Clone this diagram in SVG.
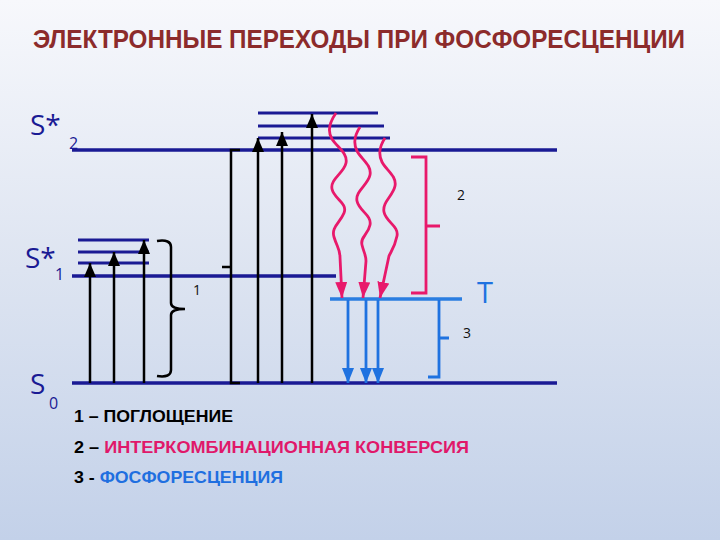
<svg xmlns="http://www.w3.org/2000/svg" width="720" height="540" viewBox="0 0 720 540">
<defs>
<linearGradient id="bg" x1="0" y1="0" x2="0" y2="1">
<stop offset="0" stop-color="#f7f8fc"/>
<stop offset="0.5" stop-color="#dde4f1"/>
<stop offset="1" stop-color="#c3d1e9"/>
</linearGradient>
<marker id="ab" markerUnits="userSpaceOnUse" markerWidth="14" markerHeight="12" refX="14" refY="6" orient="auto"><path d="M0,0 L14,6 L0,12 z" fill="#000"/></marker>
<marker id="ap" markerUnits="userSpaceOnUse" markerWidth="16" markerHeight="12" refX="16" refY="6" orient="auto"><path d="M0,0 L16,6 L0,12 z" fill="#e8196b"/></marker>
<marker id="au" markerUnits="userSpaceOnUse" markerWidth="15" markerHeight="12" refX="15" refY="6" orient="auto"><path d="M0,0 L15,6 L0,12 z" fill="#1f72e0"/></marker>
</defs>
<style>
.lvl{stroke:#1a1a94;stroke-width:3.5;fill:none}
.sub{stroke:#1a1a94;stroke-width:3;fill:none}
.blk{stroke:#000;stroke-width:2.5;fill:none}
.pnk{stroke:#e8196b;stroke-width:2.8;fill:none}
.blu{stroke:#1f72e0;stroke-width:2.8;fill:none}
.lbl{font-family:"Open Sans","Liberation Sans",sans-serif;fill:#1a1a94}
.num{font-family:"Open Sans","Liberation Sans",sans-serif;font-size:14px;fill:#111}
.leg{font-family:"Liberation Sans",Arial,sans-serif;font-weight:bold;font-size:17px;fill:#000}
</style>
<rect width="720" height="540" fill="url(#bg)"/>
<text x="33" y="48" font-family="'Liberation Sans',Arial,sans-serif" font-weight="bold" font-size="25" fill="#8c2b2b" textLength="652" lengthAdjust="spacingAndGlyphs">ЭЛЕКТРОННЫЕ ПЕРЕХОДЫ ПРИ ФОСФОРЕСЦЕНЦИИ</text>

<g id="level-S2">
<line class="lvl" x1="72" y1="150" x2="557" y2="150"/>
<line class="sub" x1="258" y1="113" x2="378" y2="113"/>
<line class="sub" x1="258" y1="126" x2="384" y2="126"/>
<line class="sub" x1="258" y1="138" x2="390" y2="138"/>
<text class="lbl" x="30" y="135" font-size="28">S*</text>
<text class="lbl" x="69" y="149" font-size="16">2</text>
</g>
<g id="level-S1">
<line class="lvl" x1="72" y1="276" x2="336" y2="276"/>
<line class="sub" x1="78" y1="240" x2="149" y2="240"/>
<line class="sub" x1="78" y1="252" x2="149" y2="252"/>
<line class="sub" x1="78" y1="263" x2="149" y2="263"/>
<text class="lbl" x="25" y="268" font-size="28">S*</text>
<text class="lbl" x="55" y="280" font-size="16">1</text>
</g>
<g id="level-S0">
<line class="lvl" x1="72" y1="383" x2="557" y2="383"/>
<text class="lbl" x="30" y="394" font-size="28">S</text>
<text class="lbl" x="49" y="409" font-size="16">0</text>
</g>
<g id="level-T">
<line x1="330" y1="299" x2="462" y2="299" stroke="#2a7de1" stroke-width="3.5"/>
<text x="485" y="303" font-family="'Open Sans','Liberation Sans',sans-serif" font-size="29" fill="#1f72e0" text-anchor="middle">T</text>
</g>

<g id="connectors">
<line class="blk" x1="90" y1="383" x2="90" y2="263" marker-end="url(#ab)"/>
<line class="blk" x1="114" y1="383" x2="114" y2="252" marker-end="url(#ab)"/>
<line class="blk" x1="144" y1="383" x2="144" y2="240" marker-end="url(#ab)"/>
<line class="blk" x1="258" y1="383" x2="258" y2="138" marker-end="url(#ab)"/>
<line class="blk" x1="282" y1="383" x2="282" y2="132" marker-end="url(#ab)"/>
<line class="blk" x1="312" y1="383" x2="312" y2="114" marker-end="url(#ab)"/>
<path class="pnk" d="M336,113 c-7,10 -9,18 -4,26 s16,14 14,24 s-16,16 -14,26 s16,14 12,24 s-13,14 -10,24 s6,12 6,20 L342,298" marker-end="url(#ap)"/>
<path class="pnk" d="M360,127 c-6,9 -7,16 -3,24 s15,14 13,24 s-15,16 -13,26 s15,14 13,24 s-10,12 -8,20 s4,10 4,16 L363,298" marker-end="url(#ap)"/>
<path class="pnk" d="M385,138 c-6,9 -7,16 -3,24 s15,14 13,24 s-13,16 -11,26 s15,14 13,24 s-5,14 -8,20 L380,298" marker-end="url(#ap)"/>
<line class="blu" x1="348" y1="300" x2="348" y2="383" marker-end="url(#au)"/>
<line class="blu" x1="366" y1="300" x2="366" y2="383" marker-end="url(#au)"/>
<line class="blu" x1="378" y1="300" x2="378" y2="383" marker-end="url(#au)"/>
</g>

<g id="bracket-1">
<path class="blk" d="M157,241 Q171,239 171,247 L171,303 Q171,309 185,309 Q171,309 171,315 L171,370 Q171,378 157,376"/>
<path class="blk" d="M240,150 L231,150 L231,383 L240,383 M231,267 L222,267"/>
<text class="num" x="197" y="295" text-anchor="middle">1</text>
</g>
<g id="bracket-2">
<path class="pnk" d="M411,157 L426,157 L426,293 L411,293 M426,226 L440,226"/>
<text class="num" x="461" y="200" text-anchor="middle">2</text>
</g>
<g id="bracket-3">
<path class="blu" d="M439,300 L439,377 L428,377 M439,338 L449,338"/>
<text class="num" x="467" y="338" text-anchor="middle">3</text>
</g>

<g id="legend">
<text class="leg" x="74" y="422" textLength="159" lengthAdjust="spacingAndGlyphs">1 – ПОГЛОЩЕНИЕ</text>
<text class="leg" x="74" y="453" textLength="395" lengthAdjust="spacingAndGlyphs">2 – <tspan fill="#e0186a">ИНТЕРКОМБИНАЦИОННАЯ  КОНВЕРСИЯ</tspan></text>
<text class="leg" x="74" y="483" textLength="209" lengthAdjust="spacingAndGlyphs">3 - <tspan fill="#1f6fe0">ФОСФОРЕСЦЕНЦИЯ</tspan></text>
</g>
</svg>
